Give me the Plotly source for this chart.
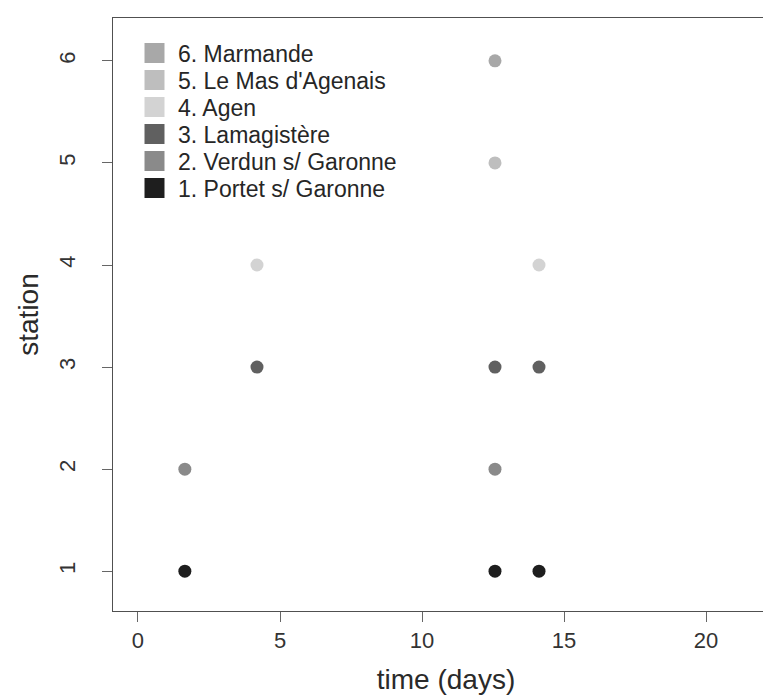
import plotly.graph_objects as go

stations = ["1. Portet s/ Garonne", "2. Verdun s/ Garonne", "3. Lamagistère",
            "4. Agen", "5. Le Mas d'Agenais", "6. Marmande"]
station_ids = [1, 2, 3, 4, 5, 6]
times_1 = [1.65, 12.57, 14.12]
times_2 = [1.65, 12.57]
times_3 = [4.19, 12.57, 14.12]
times_4 = [4.19, 14.12]
times_5 = [12.57]
times_6 = [12.57]
all_times = [times_1, times_2, times_3, times_4, times_5, times_6]
colors = ["#1e1e1e", "#8a8a8a", "#606060", "#d3d3d3", "#bebebe", "#a8a8a8"]

FONT = "Liberation Sans, Arial, sans-serif"
W, H = 771, 697
ML, MR, MT, MB = 105, 0, 10, 94
PW, PH = W - ML - MR, H - MT - MB

fig = go.Figure()
for name, sid, t, c in zip(stations, station_ids, all_times, colors):
    fig.add_trace(go.Scatter(
        x=t, y=[sid] * len(t), mode="markers", name=name,
        marker=dict(symbol="circle", size=13, color=c, line=dict(width=0)),
        showlegend=False,
    ))

# legend drawn R-style (top-left, station 6 first)
def px_to_paper_x(px):
    return (px - ML) / PW

def px_to_paper_y(py):
    return (H - MB - py) / PH

row0, row_gap = 45, 27
sq_cx, sq_half, text_x = 146.5, 10, 168
for i, (name, c) in enumerate(reversed(list(zip(stations, colors)))):
    cy = row0 + i * row_gap
    fig.add_shape(type="rect", xref="paper", yref="paper",
                  x0=px_to_paper_x(sq_cx - sq_half), x1=px_to_paper_x(sq_cx + sq_half),
                  y0=px_to_paper_y(cy + sq_half), y1=px_to_paper_y(cy - sq_half),
                  fillcolor=c, line=dict(width=0))
    fig.add_annotation(text=name, xref="paper", yref="paper",
                       x=px_to_paper_x(text_x), y=px_to_paper_y(cy + 1),
                       xanchor="left", yanchor="middle", showarrow=False,
                       font=dict(family=FONT, size=23, color="#262626"))

fig.update_layout(
    width=W, height=H,
    margin=dict(l=ML, r=MR, t=MT, b=MB),
    paper_bgcolor="white", plot_bgcolor="white",
    font=dict(family=FONT, size=22, color="#333333"),
    showlegend=False,
    xaxis=dict(
        range=[-0.88, 22.57], tickvals=[0, 5, 10, 15, 20],
        showgrid=False, zeroline=False,
        showline=True, linecolor="#505050", linewidth=1, mirror=True,
        ticks="outside", ticklen=10, tickcolor="#666666",
        tickfont=dict(size=22, color="#333333"),
        title=dict(text="time (days)", font=dict(size=28, color="#2a2a2a"), standoff=16),
    ),
    yaxis=dict(
        range=[0.61, 6.42], tickvals=[1, 2, 3, 4, 5, 6],
        showgrid=False, zeroline=False,
        showline=True, linecolor="#505050", linewidth=1, mirror=False,
        ticks="outside", ticklen=10, tickcolor="#666666", tickangle=-90,
        ticklabelstandoff=18,
        tickfont=dict(size=22, color="#333333"),
        title=dict(text="station", font=dict(size=28, color="#2a2a2a"), standoff=8),
    ),
)

fig.write_html("out.html")
